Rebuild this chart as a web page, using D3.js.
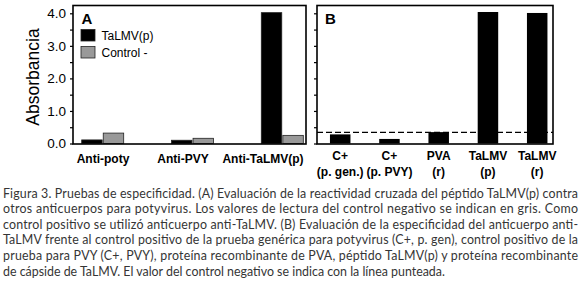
<!DOCTYPE html>
<html>
<head>
<meta charset="utf-8">
<script src="https://cdn.jsdelivr.net/npm/d3@7"></script>
<style>
  body { margin: 0; background: #fff; }
  svg { display: block; }
  .chart text { font-family: "Liberation Sans", Arial, sans-serif; fill: #000; }
  .caption text { font-family: Lato, "Open Sans", sans-serif; fill: #353535; font-size: 12.4px; }
</style>
</head>
<body>
<svg id="fig" width="586" height="299"></svg>
<script>
// Panel A: cross-reactivity of the TaLMV(p) peptide
const groupsA = ['Anti-poty', 'Anti-PVY', 'Anti-TaLMV(p)'];
const seriesA = ['TaLMV(p)', 'Control -'];
const talmvA = [0.11, 0.10, 4.02];
const controlA = [0.32, 0.16, 0.25];

// Panel B: specificity of the anti-TaLMV antibody
const groupsB = [['C+', '(p. gen.)'], ['C+', '(p. PVY)'], ['PVA', '(r)'], ['TaLMV', '(p)'], ['TaLMV', '(r)']];
const valuesB = [0.28, 0.14, 0.35, 4.04, 4.01];
const negControlB = 0.34;

const yTicks = [0, 1, 2, 3, 4];
const yMinorTicks = [0, 0.5, 1, 1.5, 2, 2.5, 3, 3.5, 4];

const captionLines = [
    'Figura 3. Pruebas de especificidad. (A) Evaluación de la reactividad cruzada del péptido TaLMV(p) contra',
    'otros anticuerpos para potyvirus. Los valores de lectura del control negativo se indican en gris. Como',
    'control positivo se utilizó anticuerpo anti-TaLMV. (B) Evaluación de la especificidad del anticuerpo anti-',
    'TaLMV frente al control positivo de la prueba genérica para potyvirus (C+, p. gen), control positivo de la',
    'prueba para PVY (C+, PVY), proteína recombinante de PVA, péptido TaLMV(p) y proteína recombinante',
    'de cápside de TaLMV. El valor del control negativo se indica con la línea punteada.'
];

const svg = d3.select('#fig');
const chart = svg.append('g').attr('class', 'chart');

const frameTop = 5.5, frameBottom = 144;
const y = d3.scaleLinear().domain([0, 4]).range([143.5, 13.3]);
const colors = { 'TaLMV(p)': '#000', 'Control -': '#999' };

// ---------- panel A ----------
const frameA = { left: 73, right: 306 };
const xA = d3.scalePoint().domain(groupsA).range([102.7, 282.3]);
const xSub = d3.scaleBand().domain(seriesA).range([-21, 21]).paddingInner(0.05);
const xLabelA = d3.scalePoint().domain(groupsA).range([103, 263]);

const barsA = groupsA.flatMap((g, i) => [
    { group: g, series: seriesA[0], value: talmvA[i] },
    { group: g, series: seriesA[1], value: controlA[i] }
]);

const gA = chart.append('g');
gA.selectAll('rect.bar')
    .data(barsA)
    .join('rect')
    .attr('class', 'bar')
    .attr('x', d => xA(d.group) + xSub(d.series))
    .attr('width', xSub.bandwidth())
    .attr('y', d => y(d.value))
    .attr('height', d => y(0) - y(d.value))
    .attr('fill', d => colors[d.series])
    .attr('stroke', '#222')
    .attr('stroke-width', 0.8);

gA.append('rect')
    .attr('x', frameA.left).attr('y', frameTop)
    .attr('width', frameA.right - frameA.left).attr('height', frameBottom - frameTop)
    .attr('fill', 'none').attr('stroke', '#000').attr('stroke-width', 1.6);

const axisA = gA.append('g')
    .attr('transform', `translate(${frameA.left},0)`)
    .call(d3.axisLeft(y).tickValues(yMinorTicks).tickSize(3).tickFormat(''));
axisA.select('.domain').remove();
axisA.selectAll('line').attr('stroke-width', 1.2);

const axisALabels = gA.append('g')
    .attr('transform', `translate(${frameA.left},0)`)
    .call(d3.axisLeft(y).tickValues(yTicks).tickSize(0).tickPadding(7).tickFormat(d3.format('.1f')));
axisALabels.select('.domain').remove();
axisALabels.selectAll('text').attr('font-size', 13.5).attr('font-family', '"Liberation Sans", Arial, sans-serif');

gA.selectAll('text.cat')
    .data(groupsA)
    .join('text')
    .attr('class', 'cat')
    .attr('x', d => xLabelA(d))
    .attr('y', 163)
    .attr('text-anchor', 'middle')
    .attr('font-weight', 'bold')
    .attr('font-size', 12)
    .text(d => d);

gA.append('text')
    .attr('transform', 'translate(39,77) rotate(-90)')
    .attr('text-anchor', 'middle')
    .attr('font-size', 17.5)
    .text('Absorbancia');

gA.append('text')
    .attr('x', 81.5).attr('y', 24)
    .attr('font-weight', 'bold').attr('font-size', 15)
    .text('A');

// legend
const legend = gA.selectAll('g.legend')
    .data(seriesA)
    .join('g')
    .attr('class', 'legend')
    .attr('transform', (d, i) => `translate(81,${29.5 + i * 17})`);
legend.append('rect')
    .attr('width', 14).attr('height', 11.5)
    .attr('fill', d => colors[d])
    .attr('stroke', '#222').attr('stroke-width', 0.8);
legend.append('text')
    .attr('x', 20.5).attr('y', 10)
    .attr('font-size', 12)
    .text(d => d);

// ---------- panel B ----------
const frameB = { left: 317, right: 553 };
const xB = d3.scalePoint().domain(d3.range(groupsB.length)).range([340.2, 537.2]);
const barW = 20.5;

const gB = chart.append('g');
gB.selectAll('rect.bar')
    .data(valuesB)
    .join('rect')
    .attr('class', 'bar')
    .attr('x', (d, i) => xB(i) - barW / 2)
    .attr('width', barW)
    .attr('y', d => y(d))
    .attr('height', d => y(0) - y(d))
    .attr('fill', '#000');

gB.append('line')
    .attr('x1', frameB.left).attr('x2', frameB.right)
    .attr('y1', y(negControlB)).attr('y2', y(negControlB))
    .attr('stroke', '#000').attr('stroke-width', 1.3)
    .attr('stroke-dasharray', '6,3');

gB.append('rect')
    .attr('x', frameB.left).attr('y', frameTop)
    .attr('width', frameB.right - frameB.left).attr('height', frameBottom - frameTop)
    .attr('fill', 'none').attr('stroke', '#000').attr('stroke-width', 1.6);

const axisB = gB.append('g')
    .attr('transform', `translate(${frameB.left},0)`)
    .call(d3.axisLeft(y).tickValues(yMinorTicks).tickSize(3).tickFormat(''));
axisB.select('.domain').remove();
axisB.selectAll('line').attr('stroke-width', 1.2);

const catB = gB.selectAll('text.cat')
    .data(groupsB)
    .join('text')
    .attr('class', 'cat')
    .attr('text-anchor', 'middle')
    .attr('font-weight', 'bold')
    .attr('font-size', 12);
catB.selectAll('tspan')
    .data((d, i) => d.map(t => ({ t, i })))
    .join('tspan')
    .attr('x', d => xB(d.i))
    .attr('y', (d, j) => 160 + j * 16)
    .text(d => d.t);

gB.append('text')
    .attr('x', 325).attr('y', 24)
    .attr('font-weight', 'bold').attr('font-size', 15)
    .text('B');

// ---------- caption ----------
const caption = svg.append('g').attr('class', 'caption');
caption.selectAll('text')
    .data(captionLines)
    .join('text')
    .attr('x', 3)
    .attr('y', (d, i) => 197.5 + i * 15.6)
    .attr('textLength', (d, i) => i < captionLines.length - 1 ? 575 : null)
    .attr('lengthAdjust', 'spacing')
    .text(d => d);
</script>
</body>
</html>
